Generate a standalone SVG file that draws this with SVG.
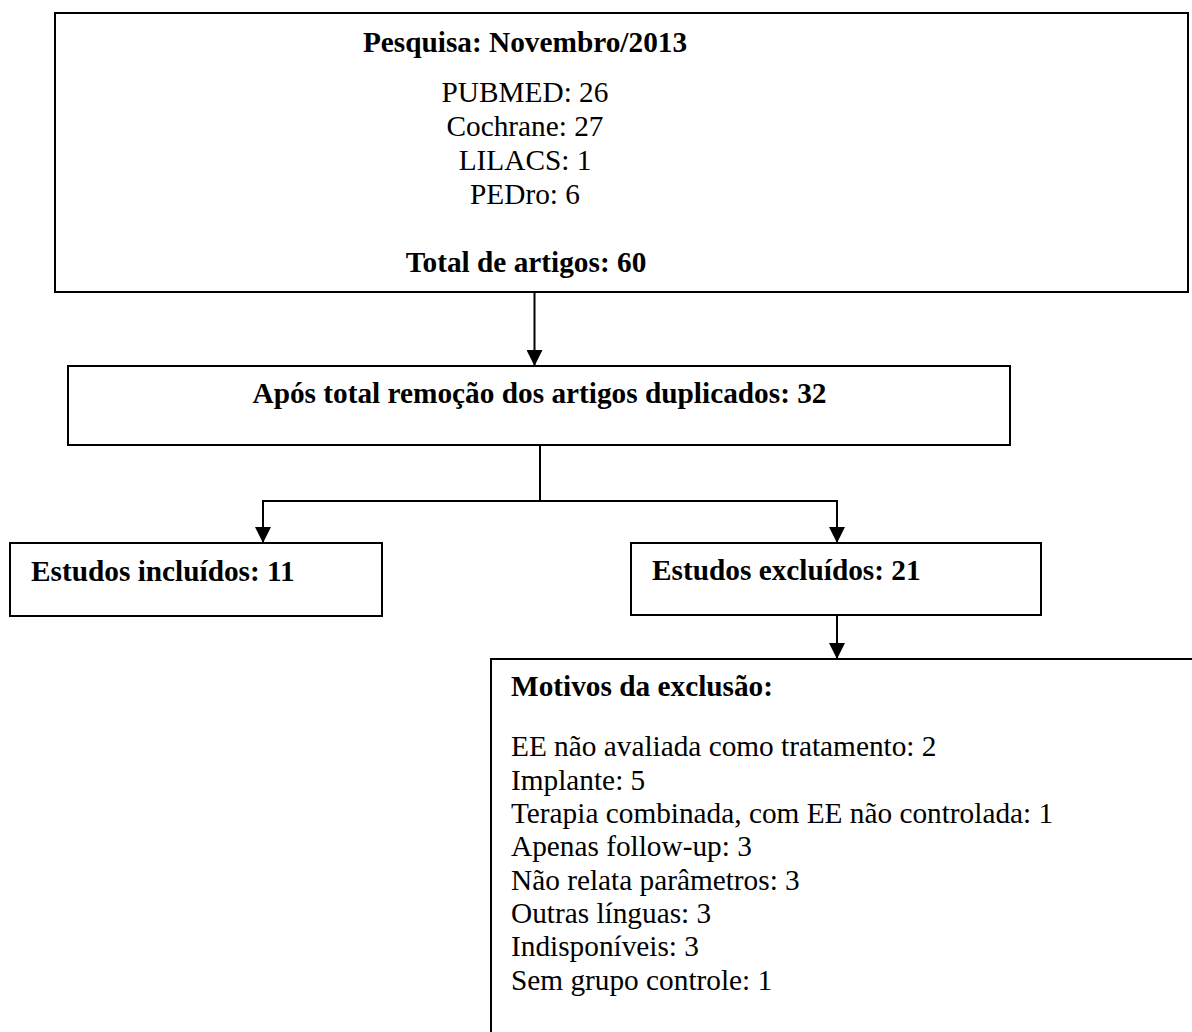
<svg xmlns="http://www.w3.org/2000/svg" width="1192" height="1032" viewBox="0 0 1192 1032">
<style>
.box{fill:#fff;stroke:#000;stroke-width:2}
.t{font-family:"Liberation Serif","Times New Roman",serif;font-size:29.3px;fill:#000}
.b{font-weight:bold}
.c{text-anchor:middle}
.ln{fill:none;stroke:#000;stroke-width:2}
</style>
<defs>
<marker id="ah" markerUnits="userSpaceOnUse" markerWidth="16" markerHeight="16" refX="16" refY="8" orient="auto">
<path d="M0,0 L16,8 L0,16 Z" fill="#000"/>
</marker>
</defs>
<rect width="1192" height="1032" fill="#fff"/>
<g id="search">
<rect class="box" x="55" y="13" width="1133" height="279"/>
<text class="t b c" x="525" y="52">Pesquisa: Novembro/2013</text>
<text class="t c" x="525" y="102">PUBMED: 26</text>
<text class="t c" x="525" y="136">Cochrane: 27</text>
<text class="t c" x="525" y="170">LILACS: 1</text>
<text class="t c" x="525" y="204">PEDro: 6</text>
<text class="t b c" x="526" y="272">Total de artigos: 60</text>
</g>
<g id="dedup">
<rect class="box" x="68" y="366" width="942" height="79"/>
<text class="t b c" x="539.5" y="403">Após total remoção dos artigos duplicados: 32</text>
</g>
<g id="included">
<rect class="box" x="10" y="543" width="372" height="73"/>
<text class="t b" x="31" y="581">Estudos incluídos: 11</text>
</g>
<g id="excluded">
<rect class="box" x="631" y="543" width="410" height="72"/>
<text class="t b" x="652" y="580">Estudos excluídos: 21</text>
</g>
<g id="reasons">
<rect class="box" x="491" y="659" width="720" height="400"/>
<text class="t b" x="511" y="696">Motivos da exclusão:</text>
<text class="t" x="511" y="756">EE não avaliada como tratamento: 2</text>
<text class="t" x="511" y="790">Implante: 5</text>
<text class="t" x="511" y="823">Terapia combinada, com EE não controlada: 1</text>
<text class="t" x="511" y="856">Apenas follow-up: 3</text>
<text class="t" x="511" y="890">Não relata parâmetros: 3</text>
<text class="t" x="511" y="923">Outras línguas: 3</text>
<text class="t" x="511" y="956">Indisponíveis: 3</text>
<text class="t" x="511" y="990">Sem grupo controle: 1</text>
</g>
<g id="connectors">
<line class="ln" x1="534.5" y1="292" x2="534.5" y2="366" marker-end="url(#ah)"/>
<polyline class="ln" points="540,445 540,501"/>
<polyline class="ln" points="540,501 263,501 263,543" marker-end="url(#ah)"/>
<polyline class="ln" points="540,501 837,501 837,543" marker-end="url(#ah)"/>
<line class="ln" x1="837" y1="615" x2="837" y2="659" marker-end="url(#ah)"/>
</g>
</svg>
